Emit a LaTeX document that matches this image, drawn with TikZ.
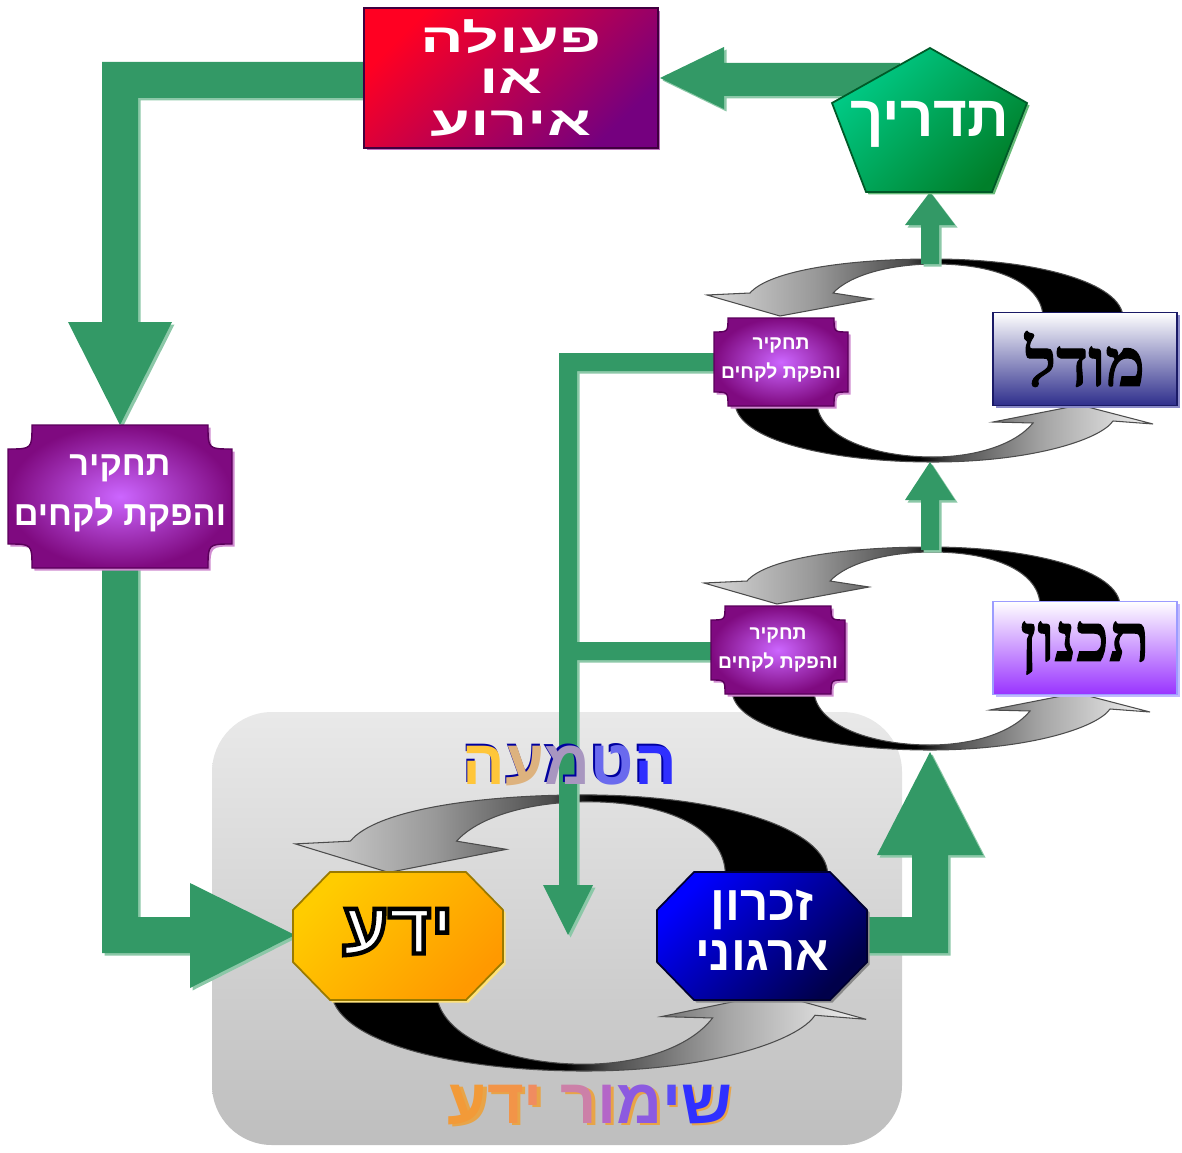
\documentclass[tikz,border=0pt]{standalone}
\usepackage{fontspec}
\usepackage{graphicx}
\usetikzlibrary{shadows}
\TeXXeTstate=1
\newfontfamily\hebsans[Script=Hebrew]{Liberation Sans}
\newfontfamily\hebserif[Script=Hebrew,FakeBold=1.5]{Liberation Serif}
\newcommand{\rtl}[1]{\beginR #1\endR}
\newcommand{\wide}[1]{\scalebox{1.6}[1]{\rtl{#1}}}
% one letter in its own colour, given to the font itself
\newcommand{\tint}[2]{{\addfontfeature{Color=#1}#2}}
% white letters with a black rim
\newcommand{\rimmed}[1]{\special{pdf:literal direct 2 Tr 2.5 w 0 0 0 RG}#1\special{pdf:literal direct 0 Tr 1 w}}

\definecolor{arrgreen}{HTML}{339966}
\definecolor{arrshade}{HTML}{8CC8A8}
\definecolor{actred}{HTML}{FF0022}
\definecolor{actpurp}{HTML}{75007F}
\definecolor{actedge}{HTML}{40003F}
\definecolor{actshade}{HTML}{C070C0}
\definecolor{guidetop}{HTML}{00CC88}
\definecolor{guidebot}{HTML}{007F2A}
\definecolor{guideedge}{HTML}{005A28}
\definecolor{guideshade}{HTML}{66BB77}
\definecolor{purpdark}{HTML}{7F0A80}
\definecolor{purplite}{HTML}{CC66FF}
\definecolor{purpedge}{HTML}{5A005A}
\definecolor{purpshade}{HTML}{D08AD0}
\definecolor{modelnavy}{HTML}{2E2E8C}
\definecolor{modeledge}{HTML}{1A1A66}
\definecolor{modelshade}{HTML}{8A8AC8}
\definecolor{planviolet}{HTML}{9933FF}
\definecolor{planedge}{HTML}{9C9CFF}
\definecolor{planshade}{HTML}{C0B8FF}
\definecolor{knowtop}{HTML}{FFCC00}
\definecolor{knowbot}{HTML}{FF9900}
\definecolor{knowedge}{HTML}{9A7A00}
\definecolor{knowshade}{HTML}{FFE27A}
\definecolor{memtop}{HTML}{0000FF}
\definecolor{membot}{HTML}{00004A}
\definecolor{memedge}{HTML}{000030}
\definecolor{memshade}{HTML}{8A8A8A}
\definecolor{bgtop}{HTML}{E9E9E9}
\definecolor{bgbot}{HTML}{BEBEBE}

\pgfdeclarehorizontalshading{toparc}{100bp}{color(0bp)=(black!15); color(25bp)=(black!15); color(38bp)=(black!40); color(49bp)=(black!70); color(53bp)=(black); color(100bp)=(black)}
\pgfdeclarehorizontalshading{botarc}{100bp}{color(0bp)=(black); color(47bp)=(black); color(51bp)=(black!70); color(62bp)=(black!35); color(75bp)=(black!5); color(100bp)=(black!5)}

% two crescent arrows of one loop, centre at the origin
\newcommand{\looparcs}{%
  \path[cyctop] (192,-44) .. controls (192,-79) and (106,-103) .. (2,-103)
    .. controls (-81,-103) and (-161,-92) .. (-181,-69)
    -- (-224,-67) -- (-151,-46) -- (-59,-63) -- (-98,-69)
    .. controls (-81,-87) and (-41,-98) .. (4,-98)
    .. controls (69,-98) and (112,-77) .. (112,-44) -- cycle;
  \path[cycbot] (-196,40) .. controls (-196,78) and (-101,100) .. (2,100)
    .. controls (99,100) and (169,78) .. (182,59)
    -- (222,62) -- (149,43) -- (62,60) -- (102,61)
    .. controls (84,83) and (44,95) .. (2,95)
    .. controls (-61,95) and (-114,73) .. (-114,40) -- cycle;
}
% box with hollow corners: style, x0, y0, x1, y1, r
\newcommand{\scallop}[6]{%
  \path[#1] ({#2+#6},#3) -- ({#4-#6},#3) .. controls ({#4-#6},{#3+#6}) .. (#4,{#3+#6})
    -- (#4,{#5-#6}) .. controls ({#4-#6},{#5-#6}) .. ({#4-#6},#5)
    -- ({#2+#6},#5) .. controls ({#2+#6},{#5-#6}) .. (#2,{#5-#6})
    -- (#2,{#3+#6}) .. controls ({#2+#6},{#3+#6}) .. ({#2+#6},#3) -- cycle;
}
% octagon: style, x0, y0, x1, y1
\newcommand{\octagon}[5]{%
  \path[#1] ({#2+37},#3) -- ({#4-37},#3) -- (#4,{#3+38}) -- (#4,{#5-38})
    -- ({#4-37},#5) -- ({#2+37},#5) -- (#2,{#5-38}) -- (#2,{#3+38}) -- cycle;
}

\begin{document}
\begin{tikzpicture}[x=0.02cm,y=-0.02cm,
  garrow/.style={fill=arrgreen,drop shadow={shadow xshift=0.05cm,shadow yshift=-0.05cm,fill=arrshade,opacity=1}},
  cyctop/.style={shade,shading=toparc,draw=black!70,line width=0.6pt},
  cycbot/.style={shade,shading=botarc,draw=black!70,line width=0.6pt},
  probe/.style={inner color=purplite,outer color=purpdark,draw=purpedge,line width=0.8pt,
    drop shadow={shadow xshift=0.05cm,shadow yshift=-0.05cm,fill=purpshade,opacity=1}},
  probetxt/.style={text=white,align=center,font=\hebsans\bfseries\fontsize{11}{17}\selectfont},
  actbox/.style={minimum width=5.88cm,minimum height=2.8cm,inner sep=0pt,
    top color=actred,bottom color=actpurp,shading angle=45,draw=actedge,line width=1pt,
    drop shadow={shadow xshift=0.05cm,shadow yshift=-0.05cm,fill=actshade,opacity=1},
    text=white,align=center,font=\hebsans\bfseries\fontsize{23}{23.5}\selectfont},
  guide/.style={top color=guidetop,bottom color=guidebot,shading angle=45,draw=guideedge,line width=1pt,
    drop shadow={shadow xshift=0.05cm,shadow yshift=-0.05cm,fill=guideshade,opacity=1}},
  sidebox/.style={minimum width=3.68cm,minimum height=1.86cm,inner sep=0pt,top color=white,
    shading angle=45,line width=1pt,font=\hebserif\bfseries\fontsize{38}{40}\selectfont},
  know/.style={top color=knowtop,bottom color=knowbot,shading angle=45,draw=knowedge,line width=1pt,
    drop shadow={shadow xshift=0.05cm,shadow yshift=-0.05cm,fill=knowshade,opacity=1}},
  memo/.style={top color=memtop,bottom color=membot,shading angle=45,draw=memedge,line width=1pt,
    drop shadow={shadow xshift=0.05cm,shadow yshift=-0.05cm,fill=memshade,opacity=1}},
  marktxt/.style={font=\hebsans\bfseries\fontsize{36}{40}\selectfont}]
\useasboundingbox (0,0) rectangle (1182,1152);

% grey field of the lower loop
\path[top color=bgtop,bottom color=bgbot,rounded corners=1.2cm] (212,712) rectangle (902,1145);

% Loops
\begin{scope}[shift={(931,362)}]
\looparcs
\end{scope}
\begin{scope}[shift={(928,650)}]
\looparcs
\end{scope}
\begin{scope}[shift={(582,935)},xscale=1.28,yscale=1.36]
\looparcs
\end{scope}

% Green arrows
\path[garrow] (366,62) -- (102,62) -- (102,322) -- (68,322) -- (120,425) -- (172,322) -- (138,322) -- (138,98) -- (366,98) -- cycle;
\path[garrow] (900,63) -- (724,63) -- (724,47) -- (660,78) -- (724,109) -- (724,96) -- (900,96) -- cycle;
\path[garrow] (102,560) -- (102,953) -- (190,953) -- (190,988) -- (295,935) -- (190,883) -- (190,917) -- (138,917) -- (138,560) -- cycle;
\path[garrow] (860,917) -- (912,917) -- (912,855) -- (877,855) -- (930,752) -- (983,855) -- (948,855) -- (948,953) -- (860,953) -- cycle;
\path[garrow] (716,353) -- (559,353) -- (559,885) -- (543,885) -- (568,935) -- (593,885) -- (577,885) -- (577,660) -- (713,660) -- (713,642) -- (577,642) -- (577,371) -- (716,371) -- cycle;
\path[garrow] (921,550) -- (921,500) -- (905,500) -- (930,462) -- (955,500) -- (939,500) -- (939,550) -- cycle;
\path[garrow] (921,264) -- (921,225) -- (905,225) -- (930,192) -- (955,225) -- (939,225) -- (939,264) -- cycle;

% Boxes
\node[actbox] (act) at (511,78) {\wide{פעולה}\\\wide{או}\\\wide{אירוע}};

\path[guide] (930,48) -- (1027,103) -- (992,192) -- (866,192) -- (832,103) -- cycle;
\node[text=white,font=\hebsans\bfseries\fontsize{33}{34}\selectfont] (guidetxt) at (930,124) {\rtl{תדריך}};

\node[sidebox,bottom color=modelnavy,draw=modeledge,
  drop shadow={shadow xshift=0.05cm,shadow yshift=-0.05cm,fill=modelshade,opacity=1}] (model) at (1085,359) {\rtl{מודל}};
\node[sidebox,bottom color=planviolet,draw=planedge,
  drop shadow={shadow xshift=0.05cm,shadow yshift=-0.05cm,fill=planshade,opacity=1}] (plan) at (1085,648) {\rtl{תכנון}};

\scallop{probe}{8}{425}{232}{568}{24}
\node[probetxt,font=\hebsans\bfseries\fontsize{19.5}{28.5}\selectfont] (probeL) at (120,493) {\rtl{תחקיר}\\\rtl{והפקת לקחים}};
\scallop{probe}{714}{318}{848}{406}{14}
\node[probetxt] (probeU) at (781,360) {\rtl{תחקיר}\\\rtl{והפקת לקחים}};
\scallop{probe}{711}{606}{845}{694}{14}
\node[probetxt] (probeD) at (778,650) {\rtl{תחקיר}\\\rtl{והפקת לקחים}};

\octagon{know}{293}{872}{503}{1000}
\node[text=white,font=\hebsans\bfseries\fontsize{42}{42}\selectfont] (knowtxt) at (398,932) {\rimmed{\rtl{ידע}}};

\octagon{memo}{657}{872}{867}{1000}
\node[text=white,align=center,font=\hebsans\bfseries\fontsize{28}{28.5}\selectfont] (memtxt) at (762,930) {\rtl{זכרון}\\\rtl{ארגוני}};

% loop labels, one colour per letter
\node[marktxt,shift={(-2,-2)}] (embedsh) at (570,766)
  {\rtl{\tint{0000A0}{ה}\tint{0000A0}{ט}\tint{0000A0}{מ}\tint{0000A0}{ע}\tint{0000A0}{ה}}};
\node[marktxt] (embed) at (570,766)
  {\rtl{\tint{2F2FFF}{ה}\tint{6A6AEE}{ט}\tint{A896C0}{מ}\tint{DDB27E}{ע}\tint{FFC63A}{ה}}};
\node[marktxt,shift={(3,2)}] (keepsh) at (590,1105)
  {\rtl{\tint{E8A448}{ש}\tint{E8A448}{י}\tint{E8A448}{מ}\tint{E8A448}{ו}\tint{E8A448}{ר} \tint{E8A448}{י}\tint{E8A448}{ד}\tint{E8A448}{ע}}};
\node[marktxt] (keep) at (590,1105)
  {\rtl{\tint{3030FF}{ש}\tint{5A4CF5}{י}\tint{8C5AE0}{מ}\tint{B466C8}{ו}\tint{CC80A8}{ר} \tint{F08C60}{י}\tint{F29448}{ד}\tint{F29A38}{ע}}};
\end{tikzpicture}
\end{document}
